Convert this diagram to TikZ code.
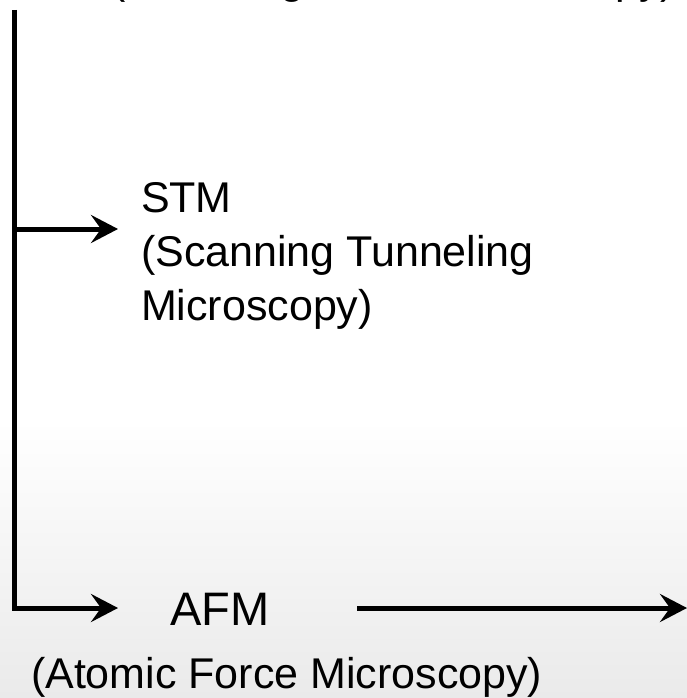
\documentclass[tikz,border=0pt]{standalone}
\usepackage{fontspec}
\setmainfont{Liberation Sans}
\usetikzlibrary{arrows.meta}
\tikzset{
  conn/.style={line width=5pt, line join=miter,
    -{Stealth[length=27pt,width=28pt,inset=10pt]}},
  lbl/.style={inner sep=0pt, outer sep=0pt, anchor=base west, text=black},
}
\begin{document}
\begin{tikzpicture}[x=1pt,y=-1pt]
\useasboundingbox (0,0) rectangle (687,698);
\fill[white] (0,0) rectangle (687,420);
\fill[top color=white, bottom color={rgb,255:red,234;green,234;blue,234}] (0,420) rectangle (687,698);
% top text, mostly cut off
\node[lbl, font=\fontsize{43}{52}\selectfont] (spm) at (111,-6.5) {(Scanning Probe Microscopy)};
% labels
\node[lbl, font=\fontsize{43}{54}\selectfont, align=left, anchor=north west] (stm) at (141,182)
  {STM\\(Scanning Tunneling\\Microscopy)};
\node[lbl, font=\fontsize{47}{54}\selectfont] (afm) at (170,625) {AFM};
\node[lbl, font=\fontsize{43}{54}\selectfont] (afmfull) at (31,688) {(Atomic Force Microscopy)};
% connectors
\coordinate (top) at (14,10);
\coordinate (j1) at (14,229);
\coordinate (a1) at (118,229);
\coordinate (a2) at (118,608);
\coordinate (r1) at (357,608);
\coordinate (r2) at (687,608);
\draw[conn] (top) |- (a2);
\draw[conn] (j1) -- (a1);
\draw[conn] (r1) -- (r2);
\end{tikzpicture}
\end{document}
